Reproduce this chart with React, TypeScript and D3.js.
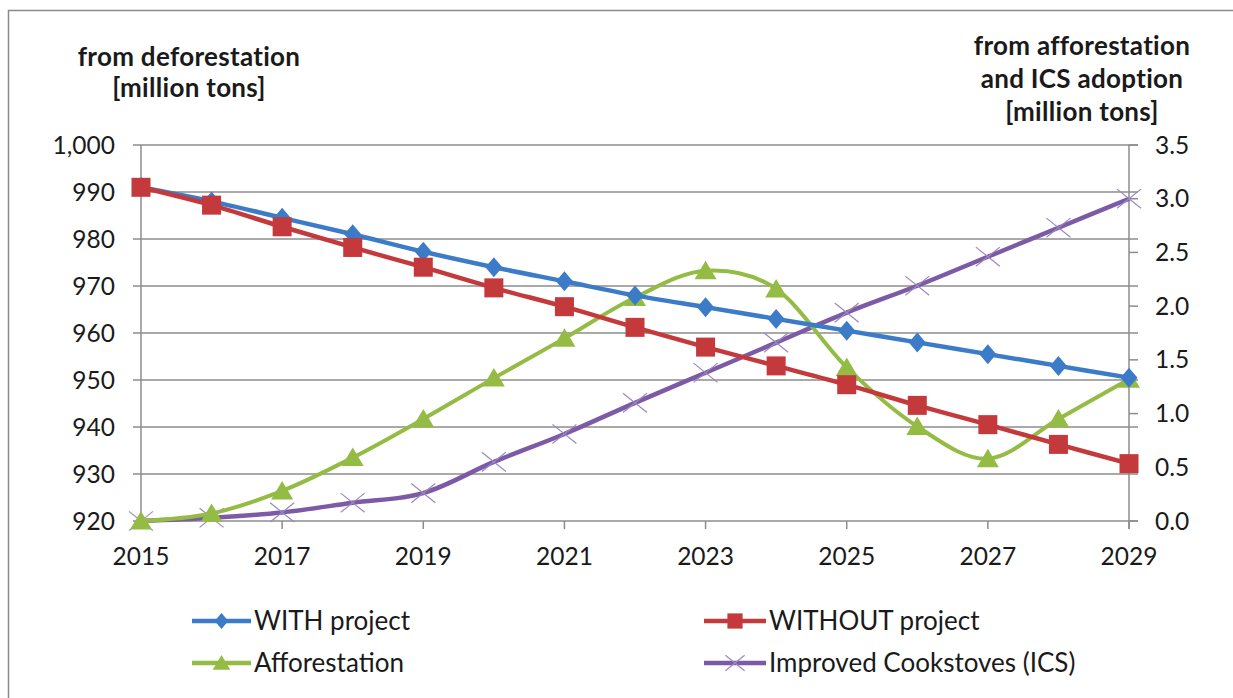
import React from "react";
import * as d3 from "d3";

const years = [2015, 2016, 2017, 2018, 2019, 2020, 2021, 2022, 2023, 2024, 2025, 2026, 2027, 2028, 2029];
const withProject = [991, 988, 984.5, 981, 977.3, 974, 971, 968, 965.5, 963, 960.5, 958, 955.5, 953, 950.5];
const withoutProject = [991, 987.2, 982.6, 978.2, 974, 969.6, 965.6, 961.2, 957, 953, 949, 944.6, 940.5, 936.3, 932.2];
const afforestation = [0.0, 0.07, 0.28, 0.59, 0.95, 1.33, 1.7, 2.08, 2.33, 2.16, 1.43, 0.88, 0.58, 0.95, 1.32];
const cookstoves = [0.0, 0.03, 0.08, 0.17, 0.26, 0.55, 0.81, 1.1, 1.38, 1.66, 1.94, 2.19, 2.46, 2.73, 3.0];
const leftTicks = [920, 930, 940, 950, 960, 970, 980, 990, 1000];
const rightTicks = [0, 0.5, 1, 1.5, 2, 2.5, 3, 3.5];
const xTickYears = [2015, 2017, 2019, 2021, 2023, 2025, 2027, 2029];

const BLUE = "#3B7BC8";
const RED = "#C43A3C";
const GREEN = "#94BC45";
const PURPLE = "#7D5AA6";
const GRID = "#8C8C8C";
const FONT = "Lato, 'Open Sans', sans-serif";

const W = 1233;
const H = 698;
const X0 = 141, X1 = 1129, Y0 = 521, Y1 = 145;

function Marker({ type, x, y, color, s = 1 }: { type: string; x: number; y: number; color: string; s?: number }) {
  if (type === "diamond") {
    const w = 8.5 * s, h = 10 * s;
    return <path d={`M${x},${y - h}L${x + w},${y}L${x},${y + h}L${x - w},${y}Z`} fill={color} />;
  }
  if (type === "square") {
    const r = 9.5 * s;
    return <rect x={x - r} y={y - r} width={2 * r} height={2 * r} fill={color} />;
  }
  if (type === "triangle") {
    const w = 11 * s, h = 10 * s;
    return <path d={`M${x},${y - h}L${x + w},${y + h * 0.85}L${x - w},${y + h * 0.85}Z`} fill={color} />;
  }
  const r = 12 * s;
  return (
    <path
      d={`M${x - r},${y - r * 0.8}L${x + r},${y + r * 0.8}M${x - r},${y + r * 0.8}L${x + r},${y - r * 0.8}`}
      stroke="#9b88c0"
      strokeWidth={1.2}
      fill="none"
    />
  );
}

export default function App() {
  const x = d3.scaleLinear().domain([2015, 2029]).range([X0, X1]);
  const yL = d3.scaleLinear().domain([920, 1000]).range([Y0, Y1]);
  const yR = d3.scaleLinear().domain([0, 3.5]).range([Y0, Y1]);

  const lineL = d3.line<number>().x((_, i) => x(years[i])).y((d) => yL(d)).curve(d3.curveCatmullRom.alpha(0));
  const lineR = d3.line<number>().x((_, i) => x(years[i])).y((d) => yR(d)).curve(d3.curveCatmullRom.alpha(0));

  const series = [
    { data: cookstoves, line: lineR, y: yR, color: PURPLE, type: "x", width: 4.5 },
    { data: afforestation, line: lineR, y: yR, color: GREEN, type: "triangle", width: 4 },
    { data: withProject, line: lineL, y: yL, color: BLUE, type: "diamond", width: 4.5 },
    { data: withoutProject, line: lineL, y: yL, color: RED, type: "square", width: 4.5 },
  ];

  const legend = [
    { label: "WITH project", color: BLUE, type: "diamond", lx: 192, ll: 59, tx: 254, ty: 621 },
    { label: "WITHOUT project", color: RED, type: "square", lx: 704, ll: 62, tx: 769, ty: 621 },
    { label: "Afforestation", color: GREEN, type: "triangle", lx: 192, ll: 59, tx: 254, ty: 663 },
    { label: "Improved Cookstoves (ICS)", color: PURPLE, type: "x", lx: 704, ll: 62, tx: 769, ty: 663 },
  ];

  return (
    <svg width={W} height={H} style={{ position: "absolute", left: 0, top: 0, background: "#fff" }} fontFamily={FONT}>
      <rect x={0} y={0} width={W} height={H} fill="#fff" />
      <rect x={8.5} y={10.5} width={1240} height={720} fill="none" stroke="#8a8a8a" strokeWidth={1.5} />

      {/* titles */}
      <g fontWeight="bold" fontSize={26} fill="#1a1a1a" textAnchor="middle" letterSpacing={0.3}>
        <text x={189} y={66}>from deforestation</text>
        <text x={189} y={97}>[million tons]</text>
        <text x={1082} y={55}>from afforestation</text>
        <text x={1082} y={88}>and ICS adoption</text>
        <text x={1082} y={121}>[million tons]</text>
      </g>

      {/* gridlines */}
      {leftTicks.map((t) => (
        <line key={t} x1={X0 - 8} x2={X1 + 9} y1={yL(t)} y2={yL(t)} stroke={GRID} strokeWidth={1.5} />
      ))}
      <line x1={X0} x2={X0} y1={Y1} y2={Y0} stroke={GRID} strokeWidth={1.5} />
      <line x1={X1} x2={X1} y1={Y1} y2={Y0 + 8} stroke={GRID} strokeWidth={1.5} />
      {rightTicks.map((t) => (
        <line key={t} x1={X1} x2={X1 + 9} y1={yR(t)} y2={yR(t)} stroke={GRID} strokeWidth={1.5} />
      ))}
      {xTickYears.map((t) => (
        <line key={t} x1={x(t)} x2={x(t)} y1={Y0} y2={Y0 + 8} stroke={GRID} strokeWidth={1.5} />
      ))}

      {/* axis labels */}
      <g fontSize={24.5} fill="#1a1a1a">
        {leftTicks.map((t) => (
          <text key={t} x={115} y={yL(t) + 8.5} textAnchor="end">
            {d3.format(",")(t)}
          </text>
        ))}
        {rightTicks.map((t) => (
          <text key={t} x={1155} y={yR(t) + 8.5} textAnchor="start">
            {d3.format(".1f")(t)}
          </text>
        ))}
        {xTickYears.map((t) => (
          <text key={t} x={x(t)} y={565} textAnchor="middle">
            {t}
          </text>
        ))}
      </g>

      {/* series */}
      {series.map((s, si) => (
        <g key={si}>
          <path d={s.line(s.data) || ""} fill="none" stroke={s.color} strokeWidth={s.width} strokeLinejoin="round" />
          {s.data.map((d, i) => (
            <Marker key={i} type={s.type} x={x(years[i])} y={s.y(d)} color={s.color} />
          ))}
        </g>
      ))}

      {/* legend */}
      {legend.map((l) => (
        <g key={l.label}>
          <line x1={l.lx} x2={l.lx + l.ll} y1={l.ty} y2={l.ty} stroke={l.color} strokeWidth={4.5} />
          <Marker type={l.type} x={l.lx + l.ll / 2} y={l.ty} color={l.color} s={0.8} />
          <text x={l.tx} y={l.ty + 9} fontSize={26} fill="#1a1a1a">
            {l.label}
          </text>
        </g>
      ))}
    </svg>
  );
}
